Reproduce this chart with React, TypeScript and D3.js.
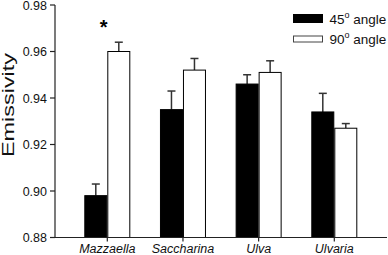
import React from "react";
import * as d3 from "d3";

const categories = ["Mazzaella", "Saccharina", "Ulva", "Ulvaria"];
const series = ["45", "90"];
const values45 = [0.898, 0.935, 0.946, 0.934];
const errors45 = [0.005, 0.008, 0.004, 0.008];
const values90 = [0.96, 0.952, 0.951, 0.927];
const errors90 = [0.004, 0.005, 0.005, 0.002];
const yTicks = [0.88, 0.9, 0.92, 0.94, 0.96, 0.98];
const seriesFill = ["#000000", "#ffffff"];

const W = 388;
const H = 255;

export default function App() {
  const y = d3.scaleLinear().domain([0.88, 0.98]).range([237.5, 5]);
  const xc = d3.scalePoint<string>().domain(categories).range([107.3, 334.3]);
  const xs = d3.scaleBand<string>().domain(series).range([-23, 23]);
  const vals = [values45, values90];
  const errs = [errors45, errors90];
  const axisY = y(0.88);
  const font = "Arial, 'Liberation Sans', Helvetica, sans-serif";
  const legendRectY = [14, 35.5];
  const legendRectH = [8, 6];
  const legendTextY = [23.5, 43.5];

  return (
    <svg
      width={W}
      height={H}
      style={{ position: "absolute", left: 0, top: 0, background: "#fff" }}
      fontFamily={font}
    >
      {/* bars */}
      {categories.map((c, i) =>
        series.map((s, j) => {
          const x0 = (xc(c) as number) + (xs(s) as number);
          const bw = xs.bandwidth();
          const top = y(vals[j][i]);
          const errTop = y(vals[j][i] + errs[j][i]);
          const cx = x0 + bw / 2;
          return (
            <g key={c + s}>
              <line x1={cx} x2={cx} y1={top} y2={errTop} stroke="#333" strokeWidth={1.5} />
              <line x1={cx - 4} x2={cx + 4} y1={errTop} y2={errTop} stroke="#333" strokeWidth={1.5} />
              <rect
                x={x0 + 0.5}
                y={top}
                width={bw - 1}
                height={axisY - top}
                fill={seriesFill[j]}
                stroke="#000"
                strokeWidth={1}
              />
            </g>
          );
        })
      )}

      {/* y axis */}
      <line x1={55} x2={55} y1={y(0.98)} y2={axisY} stroke="#222" strokeWidth={1.2} />
      {yTicks.map((t) => (
        <g key={t}>
          <line x1={50} x2={55} y1={y(t)} y2={y(t)} stroke="#222" strokeWidth={1.2} />
          <text x={47} y={y(t)} dy="0.36em" textAnchor="end" fontSize={12.5} fill="#111">
            {t.toFixed(2)}
          </text>
        </g>
      ))}
      <text
        transform={`translate(14, 105) rotate(-90)`}
        textAnchor="middle"
        fontSize={17}
        textLength={104}
        lengthAdjust="spacingAndGlyphs"
        fill="#111"
      >
        Emissivity
      </text>

      {/* x axis */}
      <line x1={55} x2={387} y1={axisY} y2={axisY} stroke="#222" strokeWidth={1.2} />
      {categories.map((c) => (
        <g key={c}>
          <line
            x1={xc(c) as number}
            x2={xc(c) as number}
            y1={axisY}
            y2={axisY + 4}
            stroke="#222"
            strokeWidth={1.2}
          />
          <text
            x={xc(c) as number}
            y={252.5}
            textAnchor="middle"
            fontSize={12.5}
            fontStyle="italic"
            fill="#111"
          >
            {c}
          </text>
        </g>
      ))}

      {/* significance */}
      <text x={103.7} y={34} textAnchor="middle" fontSize={20} fontWeight="bold" fill="#000">
        *
      </text>

      {/* legend */}
      {series.map((s, j) => (
        <g key={s}>
          <rect
            x={293.5}
            y={legendRectY[j] + 0.5}
            width={29}
            height={legendRectH[j]}
            fill={seriesFill[j]}
            stroke={j === 0 ? "#000" : "#444"}
            strokeWidth={1}
          />
          <text x={329.5} y={legendTextY[j]} fontSize={13.5} fill="#111">
            {s}
            <tspan dy={-5.5} fontSize={9}>o</tspan>
            <tspan dy={5.5}> angle</tspan>
          </text>
        </g>
      ))}
    </svg>
  );
}
